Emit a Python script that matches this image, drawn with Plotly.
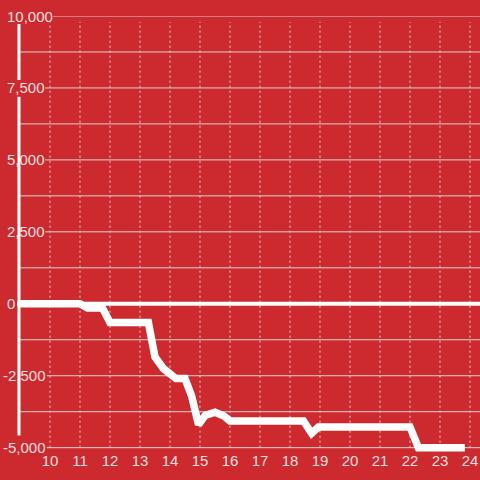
import plotly.graph_objects as go

# ---- data ----
hours = [9.0, 11.0, 11.25, 11.75, 12.0, 13.28, 13.5, 13.78, 14.2, 14.5, 14.72, 14.95,
         15.17, 15.5, 15.8, 16.0, 18.45, 18.72, 18.95, 22.0, 22.28, 23.83]
values = [0, 0, -150, -150, -650, -650, -1850, -2250, -2600, -2600, -3200, -4200,
          -3880, -3770, -3900, -4070, -4070, -4500, -4280, -4280, -5000, -5000]

x_ticks = list(range(10, 25))
y_label_vals = [10000, 7500, 5000, 2500, 0, -2500, -5000]
y_grid_vals = [10000, 8750, 7500, 6250, 5000, 3750, 2500, 1250, -1250, -2500, -3750, -5000]

# ---- style ----
BG = "#cd2a2f"
TXT = "rgba(255,255,255,0.86)"
GRID = "rgba(212,212,212,1)"
FONT = "Liberation Sans"
FS = 15
W, H = 480, 480
ML, MR, MT, MB = 20, 0, 16, 28
PW = W - ML - MR
X_RANGE = [9, 9 + PW / 30.0]
Y_RANGE = [-5150, 10000]

def fmt(v):
    return f"{v:,}"

def text_w(s):
    w = 0.0
    for ch in s:
        if ch.isdigit():
            w += 0.556 * FS
        elif ch == ",":
            w += 0.278 * FS
        elif ch == "-":
            w += 0.333 * FS
    return w

fig = go.Figure()
fig.add_trace(go.Scatter(x=hours, y=values, mode="lines",
                         line=dict(color="white", width=7.5), hoverinfo="skip"))

shapes = []
annotations = []

# horizontal grid lines (covered near the labels)
for v in y_grid_vals:
    if v in y_label_vals:
        left_px = 2.2 if v < 0 else 5.5
        start_px = left_px + text_w(fmt(v)) + 2
    else:
        start_px = ML
    shapes.append(dict(type="line", xref="paper", yref="y",
                       x0=(start_px - ML) / PW, x1=1, y0=v, y1=v,
                       line=dict(color=GRID, width=1), layer="below"))

# vertical dotted grid lines
for t in x_ticks:
    shapes.append(dict(type="line", xref="x", yref="y", x0=t, x1=t, y0=-5000, y1=9800,
                       line=dict(color=GRID, width=1, dash="2px,3px"), layer="below"))

# zero line
shapes.append(dict(type="line", xref="paper", yref="y", x0=-3 / PW, x1=1, y0=0, y1=0,
                   line=dict(color="white", width=4), layer="below"))

# y axis line (two segments)
for y0, y1 in [(9720, 7775), (7195, -4575)]:
    shapes.append(dict(type="line", xref="paper", yref="y", x0=-1 / PW, x1=-1 / PW,
                       y0=y0, y1=y1, line=dict(color="white", width=3), layer="below"))

# y labels
for v in y_label_vals:
    left_px = 2.2 if v < 0 else 5.5
    annotations.append(dict(xref="paper", yref="y", x=(left_px - ML) / PW, y=v,
                            text=fmt(v), showarrow=False, xanchor="left", yanchor="middle",
                            font=dict(family=FONT, size=FS, color=TXT), borderpad=0))

fig.update_layout(
    width=W, height=H,
    margin=dict(l=ML, r=MR, t=MT, b=MB),
    paper_bgcolor=BG, plot_bgcolor=BG,
    showlegend=False,
    shapes=shapes, annotations=annotations,
    xaxis=dict(range=X_RANGE, showgrid=False, zeroline=False, showline=False,
               tickvals=x_ticks, ticktext=[str(t) for t in x_ticks], ticks="",
               ticklabelstandoff=-2,
               tickfont=dict(family=FONT, size=FS, color=TXT), fixedrange=True),
    yaxis=dict(range=Y_RANGE, showgrid=False, zeroline=False, showline=False,
               showticklabels=False, ticks="", fixedrange=True),
)

fig.write_html(
    "out.html",
    config={"displayModeBar": False},
    post_script="document.body.style.margin='0';document.body.style.background='" + BG + "';",
)
